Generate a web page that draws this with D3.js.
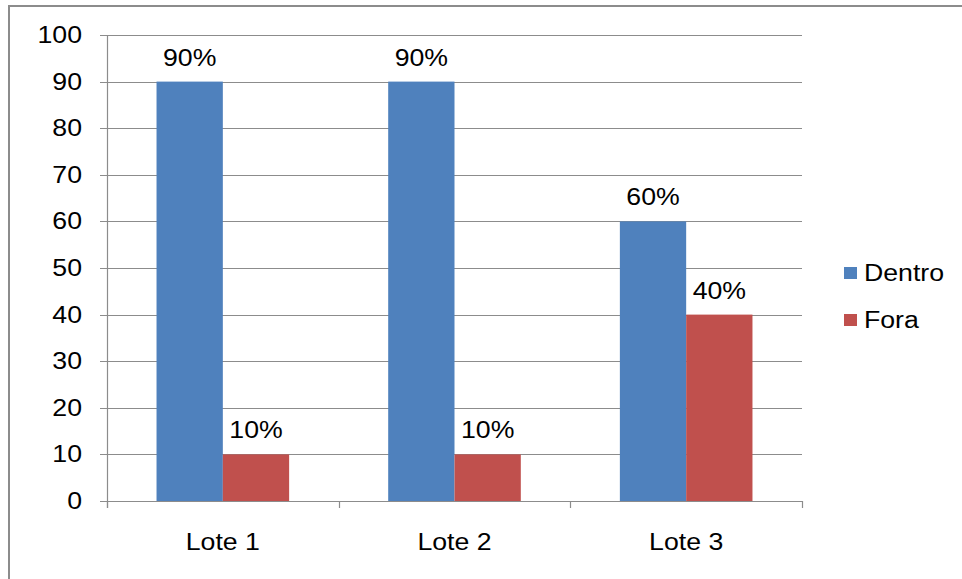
<!DOCTYPE html>
<html>
<head>
<meta charset="utf-8">
<script src="https://cdn.jsdelivr.net/npm/d3@7"></script>
<style>
  html, body { margin: 0; padding: 0; background: #fff; }
  svg { display: block; }
  text { font-family: "Liberation Sans", Arial, sans-serif; fill: #000; }
</style>
</head>
<body>
<svg id="chart" width="962" height="579"></svg>
<script>
// Chart data
const categories = ["Lote 1", "Lote 2", "Lote 3"];
const seriesNames = ["Dentro", "Fora"];
const dentro = [90, 90, 60];
const fora = [10, 10, 40];
const valueLabels = [["90%", "10%"], ["90%", "10%"], ["60%", "40%"]];
const yTicks = [0, 10, 20, 30, 40, 50, 60, 70, 80, 90, 100];

const colors = { Dentro: "#4F81BD", Fora: "#C0504D" };
const gridColor = "#8c8c8c";
const fontSize = 23;
const stretch = 1.16; // horizontal text stretch

const svg = d3.select("#chart");

// Outer frame
svg.append("rect")
  .attr("x", 9).attr("y", 6)
  .attr("width", 1000).attr("height", 1000)
  .attr("fill", "none").attr("stroke", "#8c8c8c").attr("stroke-width", 2);

const plot = { left: 107, right: 802, top: 35, bottom: 501 };

const y = d3.scaleLinear().domain([0, 100]).range([plot.bottom, plot.top]);
const x = d3.scaleBand().domain(categories).range([plot.left, plot.right]).paddingInner(0).paddingOuter(0);
const xs = d3.scaleBand().domain(seriesNames).range([0, x.bandwidth()]).paddingInner(0).paddingOuter(0.747);

function label(g, tx, ty, str, anchor) {
  return g.append("text")
    .attr("transform", `translate(${tx},${ty}) scale(${stretch},1)`)
    .attr("text-anchor", anchor)
    .attr("font-size", fontSize)
    .text(str);
}

// Gridlines with tick marks on the left
const yAxis = d3.axisLeft(y).tickValues(yTicks).tickSize(0).tickFormat("");
const gy = svg.append("g").attr("transform", `translate(${plot.left},0)`);
gy.selectAll("line.grid").data(yTicks).join("line")
  .attr("class", "grid")
  .attr("x1", -7).attr("x2", plot.right - plot.left)
  .attr("y1", d => Math.round(y(d)) + 0.5).attr("y2", d => Math.round(y(d)) + 0.5)
  .attr("stroke", gridColor).attr("stroke-width", 1.2);

// Bars
const rows = categories.map((c, i) => ({ cat: c, values: [dentro[i], fora[i]], labels: valueLabels[i] }));
const groups = svg.append("g").selectAll("g").data(rows).join("g")
  .attr("transform", d => `translate(${x(d.cat)},0)`);
groups.selectAll("rect").data(d => seriesNames.map((s, k) => ({ s, v: d.values[k] })))
  .join("rect")
  .attr("x", d => xs(d.s))
  .attr("y", d => y(d.v))
  .attr("width", xs.bandwidth())
  .attr("height", d => y(0) - y(d.v))
  .attr("fill", d => colors[d.s]);

// Axes lines
svg.append("line")
  .attr("x1", plot.left + 0.5).attr("x2", plot.left + 0.5)
  .attr("y1", plot.top).attr("y2", plot.bottom + 7)
  .attr("stroke", gridColor).attr("stroke-width", 1.2);
svg.append("line")
  .attr("x1", plot.left).attr("x2", plot.right)
  .attr("y1", Math.round(y(0)) + 0.5).attr("y2", Math.round(y(0)) + 0.5)
  .attr("stroke", gridColor).attr("stroke-width", 1.2);
const boundaries = categories.map(c => x(c)).concat([plot.right]);
svg.selectAll("line.xtick").data(boundaries).join("line")
  .attr("class", "xtick")
  .attr("x1", d => Math.round(d) + 0.5).attr("x2", d => Math.round(d) + 0.5)
  .attr("y1", plot.bottom).attr("y2", plot.bottom + 7)
  .attr("stroke", gridColor).attr("stroke-width", 1.2);

// Y tick labels
const tl = svg.append("g");
yTicks.forEach(t => label(tl, 82, y(t) + 8, String(t), "end"));

// Category labels
const cl = svg.append("g");
categories.forEach(c => label(cl, x(c) + x.bandwidth() / 2, 550, c, "middle"));

// Value labels above bars
const vl = svg.append("g");
rows.forEach(r => {
  seriesNames.forEach((s, k) => {
    label(vl, x(r.cat) + xs(s) + xs.bandwidth() / 2, y(r.values[k]) - 16, r.labels[k], "middle");
  });
});

// Legend
const legend = svg.append("g").attr("transform", "translate(844,267)");
seriesNames.forEach((s, i) => {
  const g = legend.append("g").attr("transform", `translate(0,${i * 47})`);
  g.append("rect").attr("width", 13).attr("height", 12).attr("fill", colors[s]);
  label(g, 20, 14, s, "start");
});
</script>
</body>
</html>
